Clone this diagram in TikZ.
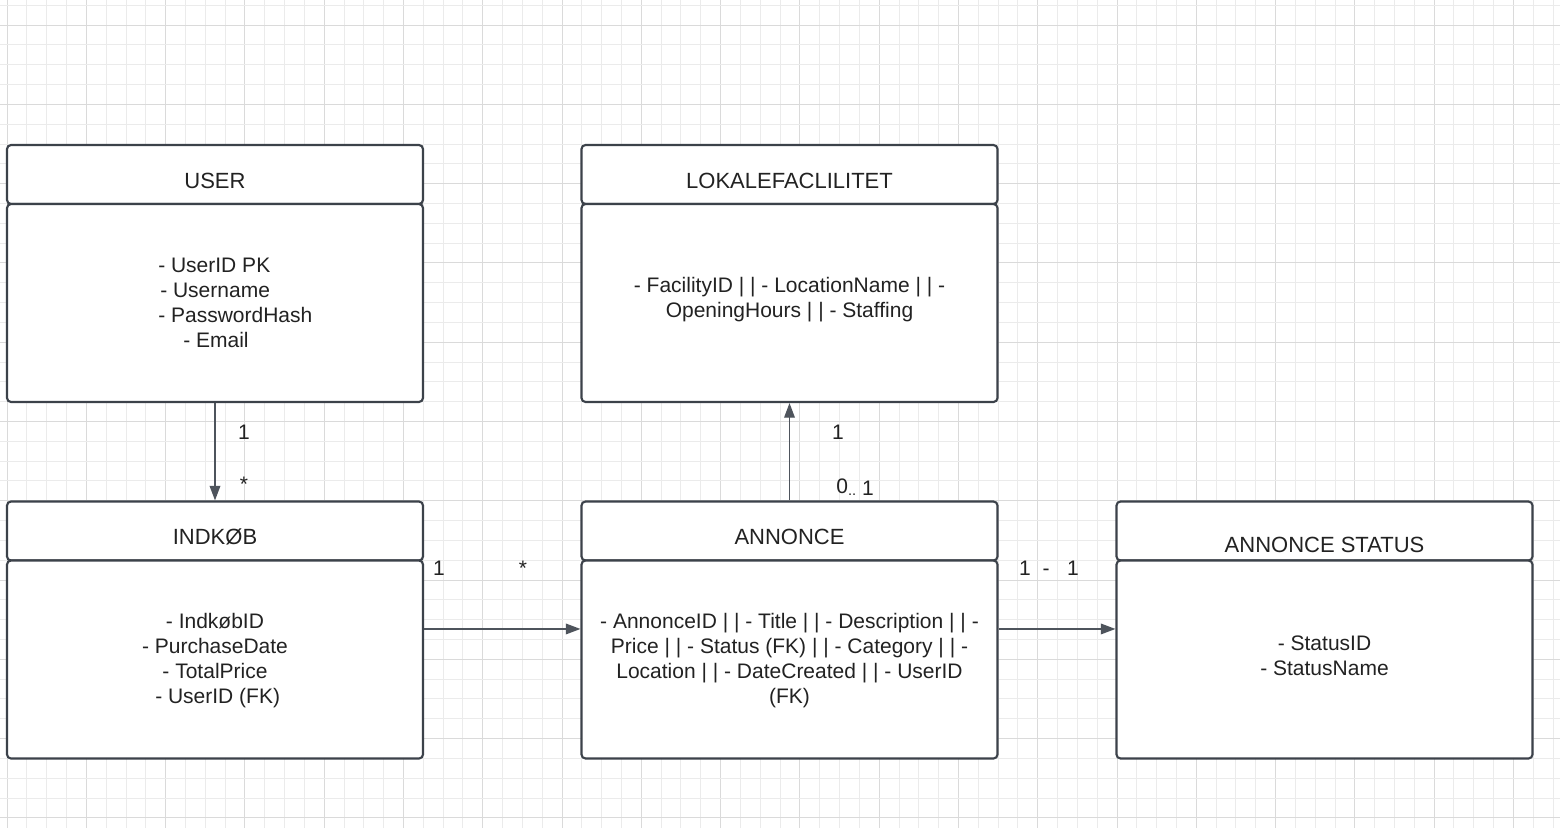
\documentclass[tikz,border=0pt]{standalone}
\usepackage{fontspec}
\setmainfont{Liberation Sans}
\usetikzlibrary{arrows.meta}
\definecolor{boxline}{HTML}{3C424A}
\definecolor{conline}{HTML}{4E545C}
\definecolor{gridminor}{HTML}{EBEBEB}
\definecolor{gridmajor}{HTML}{DADADA}
\definecolor{txt}{HTML}{222222}
\begin{document}
\begin{tikzpicture}[x=0.75pt,y=-0.75pt,
  font=\fontsize{15.75pt}{18.75pt}\selectfont,
  every node/.style={text=txt},
  headbox/.style={draw=boxline,line width=1.6pt,rounded corners=3pt,fill=white,minimum width=312pt,minimum height=44.25pt,inner sep=0pt},
  bodybox/.style={draw=boxline,line width=1.6pt,rounded corners=3pt,fill=white,minimum width=312pt,minimum height=148.5pt,inner sep=0pt},
  titletext/.style={inner sep=0pt,font=\fontsize{16.5pt}{19.5pt}\selectfont},
  bodytext/.style={inner sep=0pt,align=center},
  conn/.style={draw=conline,line width=1.1pt,-{Triangle[length=11pt,width=8pt]}},
  mult/.style={inner sep=0pt},
  gminor/.style={gridminor,line width=0.6pt},
  gmajor/.style={gridmajor,line width=0.6pt}
]
\useasboundingbox (0,0) rectangle (1560,828);
\fill[white] (0,0) rectangle (1560,828);
% grid
\foreach \i in {0,...,78}{
  \pgfmathsetmacro\xx{7+19.82*\i}
  \pgfmathtruncatemacro\m{mod(\i,4)}
  \ifnum\m=0
    \draw[gmajor] (\xx,0) -- (\xx,828);
  \else
    \draw[gminor] (\xx,0) -- (\xx,828);
  \fi
}
\foreach \j in {-1,...,40}{
  \pgfmathsetmacro\yy{25+19.82*\j}
  \pgfmathtruncatemacro\m{mod(\j+4,4)}
  \ifnum\m=0
    \draw[gmajor] (0,\yy) -- (1560,\yy);
  \else
    \draw[gminor] (0,\yy) -- (1560,\yy);
  \fi
}
% USER
\node[headbox] (userH) at (215,174.5) {};
\node[bodybox] (userB) at (215,303) {};
\node[titletext] (userT) at (215,181) {USER};
\node[bodytext,align=left,anchor=west] (userL) at (158,302.5) {- UserID PK\\\hspace*{1.5pt}- Username\\- PasswordHash\\\hspace*{18.75pt}- Email};
% LOKALEFACLILITET
\node[headbox] (lokH) at (789.5,174.5) {};
\node[bodybox] (lokB) at (789.5,303) {};
\node[titletext] (lokT) at (789.5,181) {LOKALEFACLILITET};
\node[bodytext] (lokL) at (789.5,299.5) {- FacilityID | | - LocationName | | -\\OpeningHours | | - Staffing};
% INDKOB
\node[headbox] (indH) at (215,531) {};
\node[bodybox] (indB) at (215,659.5) {};
\node[titletext] (indT) at (215,537) {INDKØB};
\node[bodytext] (indL) at (215,661) {- IndkøbID\\- PurchaseDate\\- TotalPrice\\\hspace*{4pt}- UserID (FK)};
% ANNONCE
\node[headbox] (annH) at (789.5,531) {};
\node[bodybox] (annB) at (789.5,659.5) {};
\node[titletext] (annT) at (789.5,537) {ANNONCE};
\node[bodytext] (annL) at (789.5,661) {- AnnonceID | | - Title | | - Description | | -\\Price | | - Status (FK) | | - Category | | -\\Location | | - DateCreated | | - UserID\\(FK)};
% ANNONCE STATUS
\node[headbox] (staH) at (1324.5,531) {};
\node[bodybox] (staB) at (1324.5,659.5) {};
\node[titletext] (staT) at (1324.5,545) {ANNONCE STATUS};
\node[bodytext] (staL) at (1324.5,655.5) {- StatusID\\- StatusName};
% connectors
\draw[conn] (userB.south) -- (indH.north);
\draw[conn] (annH.north) -- (lokB.south);
\draw[conn] ([yshift=22.9pt]indB.east) -- ([yshift=22.9pt]annB.west);
\draw[conn] ([yshift=22.9pt]annB.east) -- ([yshift=22.9pt]staB.west);
% multiplicities
\node[mult] (m1) at (244,432) {1};
\node[mult] (m2) at (244,484.5) {*};
\node[mult] (m3) at (838,432) {1};
\node[mult] (m4) at (855,487) {\raisebox{1.5pt}{0}{\fontsize{11pt}{11pt}\selectfont..}\ 1};
\node[mult] (m5) at (439,568) {1};
\node[mult] (m6) at (523,568.5) {*};
\node[mult] (m7) at (1049,568) {1\ \ -\ \ \ 1};
\end{tikzpicture}
\end{document}
